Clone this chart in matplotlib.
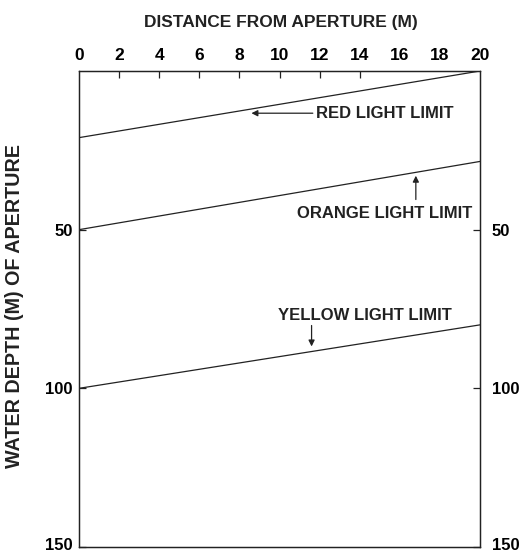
import numpy as np
from matplotlib import pyplot as plt
from matplotlib.transforms import ScaledTranslation

plt.rcParams['font.family'] = ['Liberation Sans', 'DejaVu Sans']
plt.rcParams['font.weight'] = 'bold'

# light limits: depth (m) at each end of the 0-20 m distance range
distance = [0, 20]
red_limit = [21, 0]
orange_limit = [50, 28.5]
yellow_limit = [100, 80]

x_ticks = list(range(0, 21, 2))
y_ticks = [50, 100, 150]

ink = '#222222'

fig = plt.figure(figsize=(5.19, 5.54), dpi=100)
ax = fig.add_axes([79 / 519, 1 - 547 / 554, 401 / 519, 476 / 554])

for depth in (red_limit, orange_limit, yellow_limit):
    ax.plot(distance, depth, color=ink, lw=0.9)

ax.set_xlim(0, 20)
ax.set_ylim(150, 0)

ax.xaxis.tick_top()
ax.set_xticks(x_ticks)
ax.set_xticklabels([str(v) for v in x_ticks], fontsize=12.5)
ax.tick_params(axis='x', direction='in', length=5, width=0.9, color=ink, pad=6)
# no tick marks at 16 and 18, the ends sit on the frame
for t in ax.xaxis.get_major_ticks():
    if t.get_loc() in (0, 16, 18, 20):
        t.tick2line.set_visible(False)

ax.set_yticks(y_ticks)
ax.set_yticklabels([str(v) for v in y_ticks], fontsize=12)
ax.tick_params(axis='y', direction='in', length=5, width=0.9, color=ink, pad=4.5)

# right-hand depth scale has a wider gap to its labels
ax_r = ax.twinx()
ax_r.set_ylim(150, 0)
ax_r.set_yticks(y_ticks)
ax_r.set_yticklabels([str(v) for v in y_ticks], fontsize=12)
ax_r.tick_params(axis='y', direction='in', length=5, width=0.9, color=ink, pad=8.5)

# lift the bottom "150" labels a touch so they stay inside the figure
lift = ScaledTranslation(0, 2 / 72, fig.dpi_scale_trans)
for a in (ax, ax_r):
    last = a.yaxis.get_major_ticks()[-1]
    for lab in (last.label1, last.label2):
        lab.set_transform(lab.get_transform() + lift)
    for s in a.spines.values():
        s.set_color(ink)
        s.set_linewidth(0.9)

fig.text(281 / 519, 1 - 22 / 554, 'DISTANCE FROM APERTURE (M)', ha='center', va='center',
         fontsize=12.5, color=ink)
fig.text(15 / 519, 1 - 306 / 554, 'WATER DEPTH (M) OF APERTURE', ha='center', va='center',
         rotation=90, fontsize=14.2, color=ink)

arrow = dict(arrowstyle='-|>', color=ink, lw=0.9, mutation_scale=9, shrinkA=0, shrinkB=0)
ax.annotate('RED LIGHT LIMIT', xy=(8.6, 13.3), xytext=(11.8, 13.3),
            ha='left', va='center', fontsize=12, color=ink, arrowprops=arrow)
ax.annotate('', xy=(16.8, 33), xytext=(16.8, 40.5), arrowprops=arrow)
ax.text(15.25, 44.8, 'ORANGE LIGHT LIMIT', ha='center', va='center', fontsize=12, color=ink)
ax.annotate('', xy=(11.6, 86.8), xytext=(11.6, 80.2), arrowprops=arrow)
ax.text(14.25, 76.9, 'YELLOW LIGHT LIMIT', ha='center', va='center', fontsize=12, color=ink)

plt.savefig('out.png', dpi=100)
